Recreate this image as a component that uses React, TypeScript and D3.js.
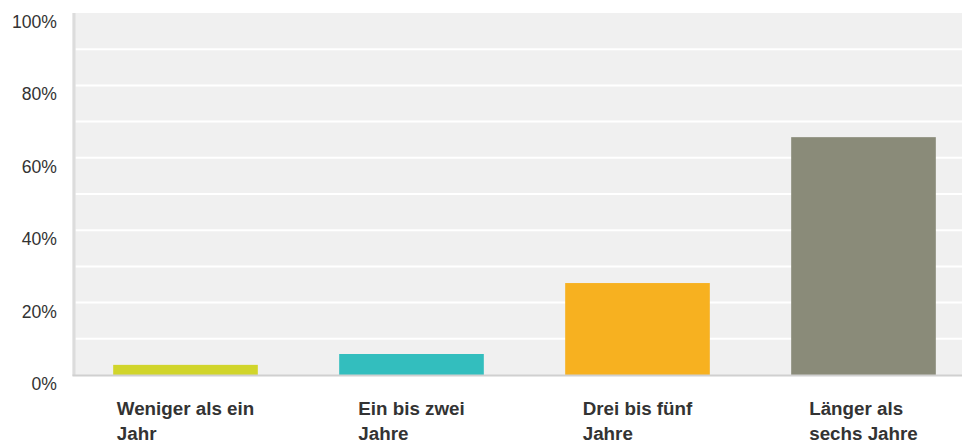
import * as d3 from "d3";
import { useEffect, useRef } from "react";

const categories = [
  ["Weniger als ein", "Jahr"],
  ["Ein bis zwei", "Jahre"],
  ["Drei bis fünf", "Jahre"],
  ["Länger als", "sechs Jahre"],
];
const values = [2.8, 5.8, 25.4, 65.7];
const colors = ["#d1d52b", "#33bebe", "#f7b120", "#8a8b79"];
const tickValues = [0, 20, 40, 60, 80, 100];

export default function App() {
  const svgRef = useRef<SVGSVGElement>(null);

  useEffect(() => {
    if (!svgRef.current) return;
    const svg = d3.select(svgRef.current);
    svg.selectAll("*").remove();

    const left = 72.5,
      top = 13,
      bottom = 375,
      width = 962;

    const x = d3
      .scaleBand<number>()
      .domain(d3.range(categories.length))
      .range([left, left + 904])
      .paddingInner(0.36)
      .paddingOuter(0.18);
    const y = d3.scaleLinear().domain([0, 100]).range([bottom, top]);

    // background
    svg
      .append("rect")
      .attr("x", left)
      .attr("y", top)
      .attr("width", width - left)
      .attr("height", bottom - top)
      .attr("fill", "#f0f0f0");

    // gridlines every 10%
    svg
      .append("g")
      .selectAll("line")
      .data(d3.range(10, 100, 10))
      .enter()
      .append("line")
      .attr("x1", left + 3)
      .attr("x2", width)
      .attr("y1", (d) => y(d))
      .attr("y2", (d) => y(d))
      .attr("stroke", "#fff")
      .attr("stroke-width", 2);

    // bars
    svg
      .append("g")
      .selectAll("rect")
      .data(values)
      .enter()
      .append("rect")
      .attr("x", (d, i) => x(i) as number)
      .attr("y", (d) => y(d))
      .attr("width", x.bandwidth())
      .attr("height", (d) => bottom - y(d))
      .attr("fill", (d, i) => colors[i]);

    // axis lines
    svg
      .append("line")
      .attr("x1", left + 1.5)
      .attr("x2", left + 1.5)
      .attr("y1", top)
      .attr("y2", bottom + 1)
      .attr("stroke", "#dcdcdc")
      .attr("stroke-width", 3);
    svg
      .append("line")
      .attr("x1", left)
      .attr("x2", width)
      .attr("y1", bottom + 0.5)
      .attr("y2", bottom + 0.5)
      .attr("stroke", "#d0d0d0")
      .attr("stroke-width", 2);

    // y tick labels
    svg
      .append("g")
      .selectAll("text")
      .data(tickValues)
      .enter()
      .append("text")
      .attr("x", 57)
      .attr("y", (d) => y(d) + 15)
      .attr("text-anchor", "end")
      .attr("font-family", "Liberation Sans, Arial, sans-serif")
      .attr("font-size", 17.6)
      .attr("fill", "#333")
      .text((d) => d + "%");

    // category labels: block centred under bar, lines left aligned
    categories.forEach((lines, i) => {
      const cx = (x(i) as number) + x.bandwidth() / 2;
      const t = svg
        .append("text")
        .attr("font-family", "Liberation Sans, Arial, sans-serif")
        .attr("font-size", 18.8)
        .attr("font-weight", "bold")
        .attr("fill", "#333");
      const spans = lines.map((line, j) =>
        t
          .append("tspan")
          .attr("y", 415 + j * 25)
          .text(line)
      );
      const w = d3.max(spans, (s) => (s.node() as SVGTSpanElement).getComputedTextLength()) as number;
      spans.forEach((s) => s.attr("x", cx - w / 2));
    });
  }, []);

  return (
    <svg
      ref={svgRef}
      width={962}
      height={445}
      style={{ position: "absolute", left: 0, top: 0, background: "#fff" }}
    />
  );
}
